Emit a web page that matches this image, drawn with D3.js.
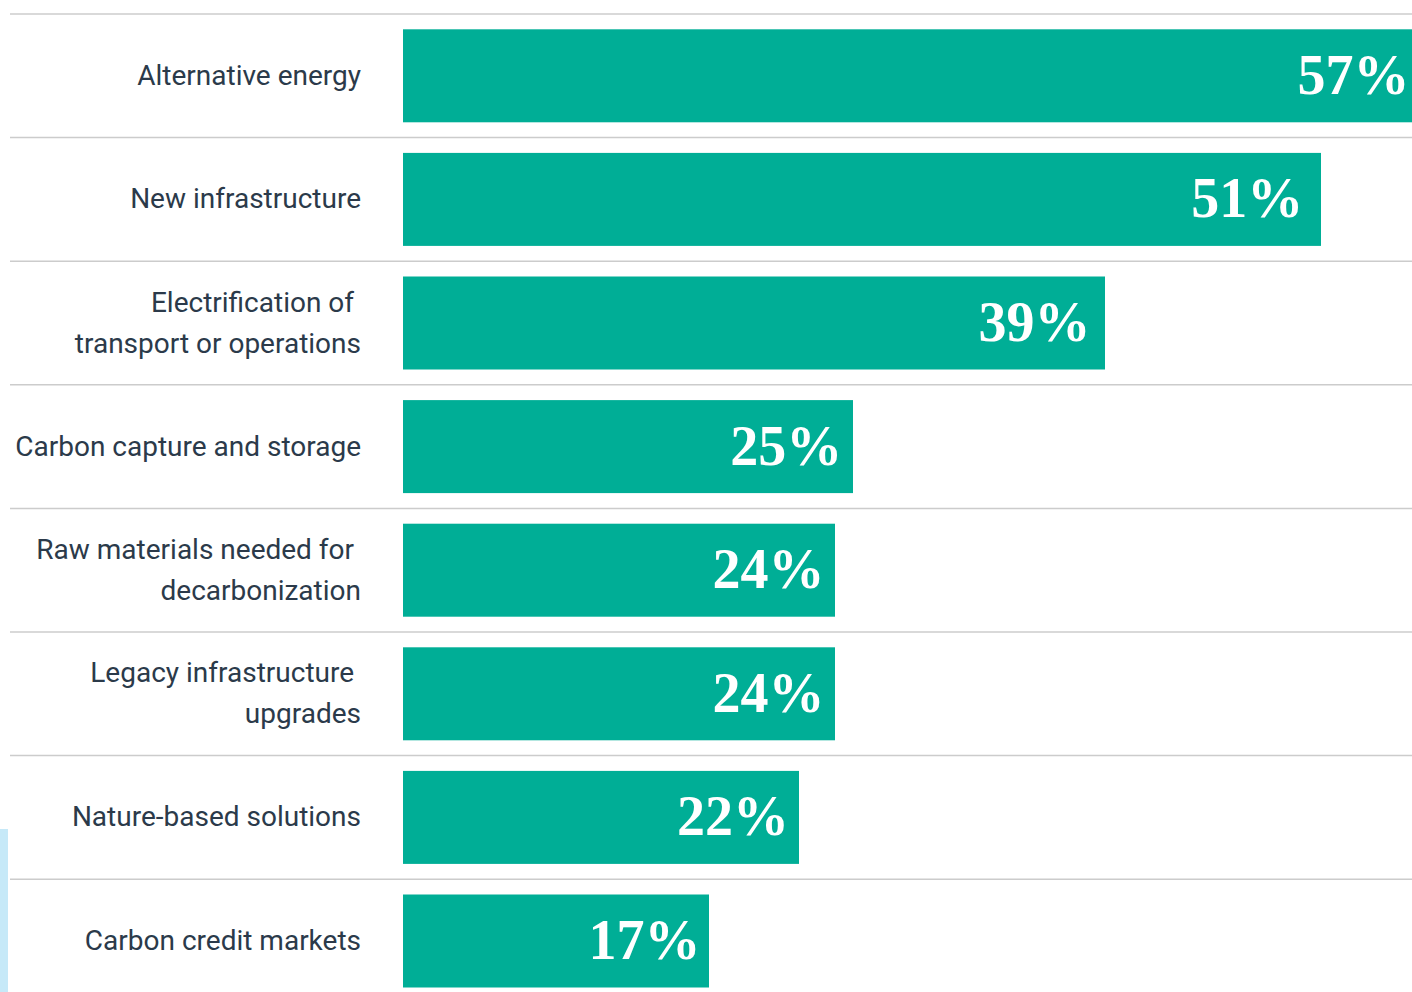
<!DOCTYPE html>
<html>
<head>
<meta charset="utf-8">
<script src="https://cdn.jsdelivr.net/npm/d3@7"></script>
<style>
  html, body { margin: 0; padding: 0; background: #fff; overflow: hidden; }
  svg { display: block; }
</style>
</head>
<body>
<svg id="chart" width="1412" height="992"></svg>
<script>
const categories = [
  ["Alternative energy"],
  ["New infrastructure"],
  ["Electrification of\u00a0", "transport or operations"],
  ["Carbon capture and storage"],
  ["Raw materials needed for\u00a0", "decarbonization"],
  ["Legacy infrastructure\u00a0", "upgrades"],
  ["Nature-based solutions"],
  ["Carbon credit markets"]
];
const values = [57, 51, 39, 25, 24, 24, 22, 17];
const valueLabels = ["57%", "51%", "39%", "25%", "24%", "24%", "22%", "17%"];

const W = 1412, H = 992;
const svg = d3.select("#chart");
const barColor = "#00ae96";
const textColor = "#2b3a4a";

const ids = d3.range(values.length);
const y = d3.scaleBand()
  .domain(ids)
  .range([14, 14 + 123.6 * values.length])
  .paddingInner(0.2476)
  .paddingOuter(0.1238);
const step = y.step();
const x = d3.scaleLinear().domain([0, 57]).range([403, 1429]);

// left accent strip
svg.append("rect")
  .attr("x", 0).attr("y", 829).attr("width", 8).attr("height", H - 829)
  .attr("fill", "#c6e9f8");

// separator lines
svg.append("g").selectAll("line")
  .data(ids)
  .join("line")
  .attr("x1", 10).attr("x2", W)
  .attr("y1", d => y(d) - y.paddingOuter() * step)
  .attr("y2", d => y(d) - y.paddingOuter() * step)
  .attr("stroke", "#cccccc")
  .attr("stroke-width", 1.5);

// bars
svg.append("g").selectAll("rect")
  .data(ids)
  .join("rect")
  .attr("x", x(0))
  .attr("y", d => y(d))
  .attr("width", d => x(values[d]) - x(0))
  .attr("height", y.bandwidth())
  .attr("fill", barColor);

// value labels
svg.append("g").selectAll("text")
  .data(ids)
  .join("text")
  .attr("x", d => {
    const w = x(values[d]) - x(0);
    return x(values[d]) - (4 + 0.015 * w);
  })
  .attr("y", d => y(d) + y.bandwidth() / 2 + 18)
  .attr("text-anchor", "end")
  .attr("fill", "#ffffff")
  .attr("font-family", "'Liberation Serif', 'DejaVu Serif', serif")
  .attr("font-weight", "bold")
  .attr("font-size", 56)
  .text(d => valueLabels[d]);

// category labels
const lab = svg.append("g").selectAll("text")
  .data(ids)
  .join("text")
  .attr("text-anchor", "end")
  .attr("fill", textColor)
  .attr("font-family", "Roboto, 'Liberation Sans', sans-serif")
  .attr("font-size", 28)
  .attr("y", d => y(d) + y.bandwidth() / 2);

lab.each(function(d) {
  const lines = categories[d];
  const lh = 41;
  const t = d3.select(this);
  lines.forEach((s, i) => {
    t.append("tspan")
      .attr("x", 361)
      .attr("dy", i === 0 ? (9 - (lines.length - 1) * lh / 2) : lh)
      .text(s);
  });
});
</script>
</body>
</html>
